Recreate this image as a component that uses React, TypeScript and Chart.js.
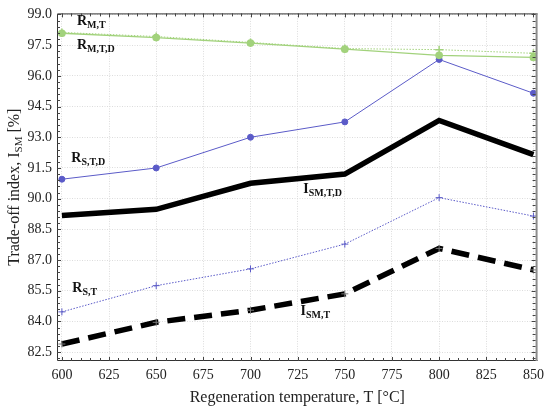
import { Chart, registerables } from "chart.js";
import { useEffect, useRef } from "react";

Chart.register(...registerables);

// Regeneration temperatures, °C
const temperatures = [600, 650, 700, 750, 800, 850];

// Series values, %
const rMT = [98.12, 97.92, 97.63, 97.33, 97.28, 97.1];
const rMTD = [98.08, 97.87, 97.6, 97.3, 97.0, 96.9];
const rSTD = [90.95, 91.5, 93.0, 93.75, 96.8, 95.15];
const iSMTD = [89.18, 89.48, 90.75, 91.2, 93.82, 92.15];
const rST = [84.47, 85.75, 86.57, 87.78, 90.05, 89.15];
const iSMT = [82.9, 83.96, 84.55, 85.35, 87.57, 86.52];

const xTicks = [600, 625, 650, 675, 700, 725, 750, 775, 800, 825, 850];
const yTicks = [82.5, 84.0, 85.5, 87.0, 88.5, 90.0, 91.5, 93.0, 94.5, 96.0, 97.5, 99.0];

// In-plot labels: [main, subscript, x, y] in data units
const seriesLabels: [string, string, number, number][] = [
  ["R", "M,T", 608, 98.66],
  ["R", "M,T,D", 608, 97.47],
  ["R", "S,T,D", 605, 91.96],
  ["I", "SM,T,D", 728, 90.43],
  ["R", "S,T", 605.5, 85.6],
  ["I", "SM,T", 726.5, 84.5],
];

const SERIF = '"Liberation Serif", "DejaVu Serif", serif';
const GREEN = "#a2d27c";
const BLUE = "#5b5bc8";

const toPoints = (ys: number[]) => temperatures.map((x, i) => ({ x, y: ys[i] }));

// eslint-disable-next-line @typescript-eslint/no-explicit-any
const decorPlugin: any = {
  id: "decor",
  // eslint-disable-next-line @typescript-eslint/no-explicit-any
  afterDraw(chart: any) {
    const { ctx, chartArea: a, scales } = chart;
    const xs = scales.x;
    const ys = scales.y;
    ctx.save();

    // frame
    ctx.strokeStyle = "#333";
    ctx.lineWidth = 1;
    ctx.beginPath();
    ctx.moveTo(a.right, a.top + 0.5);
    ctx.lineTo(a.left + 0.5, a.top + 0.5);
    ctx.lineTo(a.left + 0.5, a.bottom - 0.5);
    ctx.lineTo(a.right, a.bottom - 0.5);
    ctx.stroke();
    ctx.strokeStyle = "#8c8c8c";
    ctx.lineWidth = 2;
    ctx.beginPath();
    ctx.moveTo(a.right - 1, a.top);
    ctx.lineTo(a.right - 1, a.bottom);
    ctx.stroke();

    // minor ticks, inward
    ctx.strokeStyle = "#444";
    ctx.lineWidth = 1;
    ctx.beginPath();
    for (let v = 600; v <= 850; v += 5) {
      const px = Math.round(xs.getPixelForValue(v)) + 0.5;
      const len = v % 25 === 0 ? 4 : 3;
      ctx.moveTo(px, a.bottom);
      ctx.lineTo(px, a.bottom - len);
      ctx.moveTo(px, a.top);
      ctx.lineTo(px, a.top + len);
    }
    for (let k = 0; k <= 56; k++) {
      const v = 82.2 + k * 0.3;
      if (v > ys.max) break;
      const py = Math.round(ys.getPixelForValue(v)) + 0.5;
      const len = k % 5 === 1 ? 4 : 3;
      ctx.moveTo(a.left, py);
      ctx.lineTo(a.left + len, py);
      ctx.moveTo(a.right - 2, py);
      ctx.lineTo(a.right - 2 - len, py);
    }
    ctx.stroke();

    // series labels with subscripts
    ctx.fillStyle = "#111";
    ctx.textBaseline = "middle";
    ctx.textAlign = "left";
    seriesLabels.forEach(([main, sub, x, y]) => {
      const px = xs.getPixelForValue(x);
      const py = ys.getPixelForValue(y);
      ctx.font = `bold 14px ${SERIF}`;
      ctx.fillText(main, px, py);
      const w = ctx.measureText(main).width;
      ctx.font = `bold 10px ${SERIF}`;
      ctx.fillText(sub, px + w, py + 4);
    });

    // x title
    ctx.font = `16px ${SERIF}`;
    ctx.textAlign = "center";
    ctx.fillStyle = "#222";
    ctx.fillText("Regeneration temperature, T [°C]", (a.left + a.right) / 2, 398);

    // y title, rotated, with subscript
    ctx.translate(15, (a.top + a.bottom) / 2);
    ctx.rotate(-Math.PI / 2);
    const p1 = "Trade-off index, I";
    const p2 = "SM";
    const p3 = " [%]";
    ctx.font = `16px ${SERIF}`;
    const w1 = ctx.measureText(p1).width;
    const w3 = ctx.measureText(p3).width;
    ctx.font = `11px ${SERIF}`;
    const w2 = ctx.measureText(p2).width;
    let cx = -(w1 + w2 + w3) / 2;
    ctx.textAlign = "left";
    ctx.font = `16px ${SERIF}`;
    ctx.fillText(p1, cx, 0);
    cx += w1;
    ctx.font = `11px ${SERIF}`;
    ctx.fillText(p2, cx, 4);
    cx += w2;
    ctx.font = `16px ${SERIF}`;
    ctx.fillText(p3, cx, 0);

    ctx.restore();
  },
};

const App: React.FC = () => {
  const canvasRef = useRef<HTMLCanvasElement>(null);

  useEffect(() => {
    document.body.style.margin = "0";
    if (!canvasRef.current) return;
    const ctx = canvasRef.current.getContext("2d");
    if (!ctx) return;

    const chart = new Chart(ctx, {
      type: "line",
      data: {
        datasets: [
          {
            label: "R_M,T,D",
            data: toPoints(rMTD),
            borderColor: GREEN,
            borderWidth: 1.3,
            pointStyle: "circle",
            pointRadius: 3.2,
            pointBackgroundColor: GREEN,
            pointBorderColor: GREEN,
          },
          {
            label: "R_M,T",
            data: toPoints(rMT),
            borderColor: GREEN,
            borderWidth: 1,
            borderDash: [1.5, 1.5],
            pointStyle: "cross",
            pointRadius: 4,
            pointBorderColor: GREEN,
            pointBorderWidth: 1.5,
          },
          {
            label: "R_S,T,D",
            data: toPoints(rSTD),
            borderColor: BLUE,
            borderWidth: 1,
            pointStyle: "circle",
            pointRadius: 3,
            pointBackgroundColor: BLUE,
            pointBorderColor: BLUE,
          },
          {
            label: "R_S,T",
            data: toPoints(rST),
            borderColor: BLUE,
            borderWidth: 1,
            borderDash: [1.5, 1.5],
            pointStyle: "cross",
            pointRadius: 3.5,
            pointBorderColor: BLUE,
            pointBorderWidth: 1,
          },
          {
            label: "I_SM,T,D",
            data: toPoints(iSMTD),
            borderColor: "#000",
            borderWidth: 5.5,
            pointRadius: 0,
          },
          {
            label: "I_SM,T",
            data: toPoints(iSMT),
            borderColor: "#000",
            borderWidth: 5.5,
            borderDash: [18, 9],
            pointStyle: "cross",
            pointRadius: 3.5,
            pointBorderColor: "#777",
            pointBorderWidth: 1,
          },
        ],
      },
      options: {
        animation: false,
        responsive: false,
        layout: { padding: { left: 0, top: 9, right: 8, bottom: 0 } },
        plugins: {
          legend: { display: false },
          tooltip: { enabled: false },
        },
        scales: {
          x: {
            type: "linear",
            min: 597.4,
            max: 852.2,
            afterBuildTicks: (s) => {
              s.ticks = xTicks.map((value) => ({ value }));
            },
            afterFit: (s) => {
              s.height = 49;
            },
            ticks: {
              color: "#222",
              font: { family: SERIF, size: 14 },
              padding: 6,
              maxRotation: 0,
              callback: (v) => String(v),
            },
            grid: { color: "#dcdcdc", drawTicks: false, lineWidth: 1 },
            border: { display: false, dash: [1, 1.5] },
          },
          y: {
            type: "linear",
            min: 82.07,
            max: 99.05,
            afterBuildTicks: (s) => {
              s.ticks = yTicks.map((value) => ({ value }));
            },
            afterFit: (s) => {
              s.width = 57;
            },
            ticks: {
              color: "#222",
              font: { family: SERIF, size: 14 },
              padding: 5,
              callback: (v) => Number(v).toFixed(1),
            },
            grid: { color: "#dcdcdc", drawTicks: false, lineWidth: 1 },
            border: { display: false, dash: [1, 1.5] },
          },
        },
      },
      plugins: [decorPlugin],
    });

    return () => {
      chart.destroy();
    };
  }, []);

  return (
    <div style={{ width: 550, height: 410 }}>
      <canvas ref={canvasRef} width={550} height={410} style={{ width: 550, height: 410 }} />
    </div>
  );
};

export default App;
